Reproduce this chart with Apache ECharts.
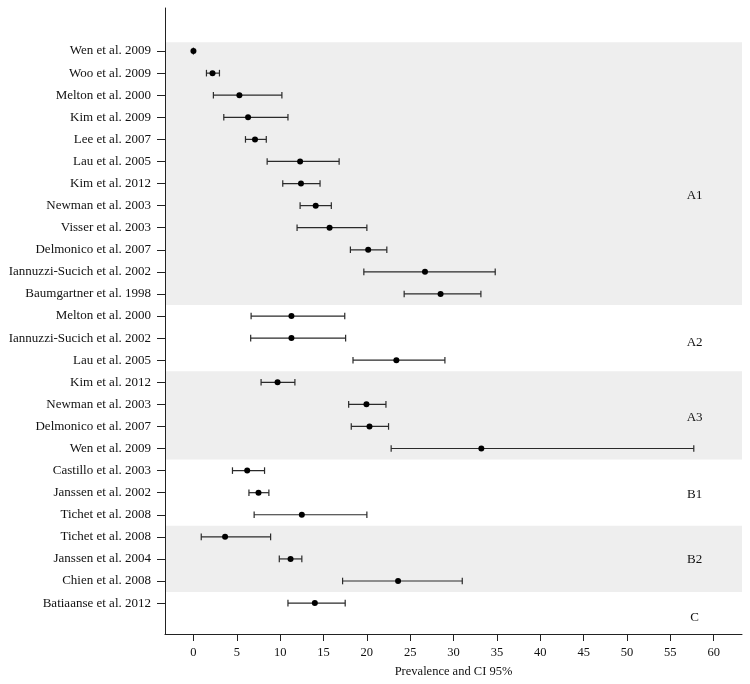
<!DOCTYPE html>
<html>
<head>
<meta charset="utf-8">
<script src="https://cdn.jsdelivr.net/npm/echarts@6/dist/echarts.min.js"></script>
<style>
html,body{margin:0;padding:0;background:#fff;}
#chart{width:750px;height:684px;}
</style>
</head>
<body>
<div id="chart"></div>
<script>
const studies = [
  'Wen et al. 2009','Woo et al. 2009','Melton et al. 2000','Kim et al. 2009','Lee et al. 2007',
  'Lau et al. 2005','Kim et al. 2012','Newman et al. 2003','Visser et al. 2003','Delmonico et al. 2007',
  'Iannuzzi-Sucich et al. 2002','Baumgartner et al. 1998',
  'Melton et al. 2000','Iannuzzi-Sucich et al. 2002','Lau et al. 2005',
  'Kim et al. 2012','Newman et al. 2003','Delmonico et al. 2007','Wen et al. 2009',
  'Castillo et al. 2003','Janssen et al. 2002','Tichet et al. 2008',
  'Tichet et al. 2008','Janssen et al. 2004','Chien et al. 2008',
  'Batiaanse et al. 2012'
];
const prevalence = [0, 2.2, 5.3, 6.3, 7.1, 12.3, 12.4, 14.1, 15.7, 20.15, 26.7, 28.5,
  11.3, 11.3, 23.4, 9.7, 19.95, 20.3, 33.2, 6.2, 7.5, 12.5, 3.65, 11.2, 23.6, 14.0];
const ciLower = [0, 1.5, 2.3, 3.5, 6.0, 8.5, 10.3, 12.3, 11.95, 18.1, 19.65, 24.3,
  6.65, 6.6, 18.4, 7.8, 17.9, 18.2, 22.8, 4.5, 6.4, 7.0, 0.9, 9.9, 17.2, 10.9];
const ciUpper = [0, 3.0, 10.2, 10.9, 8.4, 16.8, 14.6, 15.9, 20.0, 22.3, 34.8, 33.15,
  17.45, 17.55, 29.0, 11.7, 22.2, 22.5, 57.7, 8.2, 8.7, 20.0, 8.9, 12.5, 31.0, 17.5];
const groupNames = ['A1', 'A2', 'A3', 'B1', 'B2', 'C'];
const groupFirstRow = [0, 12, 15, 19, 22, 25];
const groupLastRow = [11, 14, 18, 21, 24, 25];
const shadedGroups = ['A1', 'A3', 'B2'];
const xTicks = [0, 5, 10, 15, 20, 25, 30, 35, 40, 45, 50, 55, 60];
const xTitle = 'Prevalence and CI 95%';

// label placement (rows) for the group names
const groupLabelRow = [6.56, 13.2, 16.6, 20.1, 23.05, 25.67];
const groupLabelX = 57.8;

const rows = studies.map((_, i) => i);
const FONT = 'Liberation Serif';

const chart = echarts.init(document.getElementById('chart'), null, {renderer: 'canvas'});

const bands = shadedGroups.map(g => {
  const k = groupNames.indexOf(g);
  return [{yAxis: groupFirstRow[k] - (k === 0 ? 0.4 : 0.5)}, {yAxis: groupLastRow[k] + 0.5}];
});

const option = {
  animation: false,
  backgroundColor: '#ffffff',
  grid: {left: 165, right: 8, top: 8, bottom: 50, containLabel: false, outerBoundsMode: 'none'},
  xAxis: {
    type: 'value',
    z: 10,
    min: -3.28, max: 63.26,
    name: xTitle,
    nameLocation: 'middle',
    nameGap: 31,
    nameTextStyle: {fontFamily: FONT, fontSize: 12.5, color: '#111'},
    axisLine: {show: true, onZero: false, lineStyle: {color: '#222', width: 1}},
    axisTick: {show: true, length: 7, customValues: xTicks, lineStyle: {color: '#222'}},
    axisLabel: {customValues: xTicks, margin: 12, fontFamily: FONT, fontSize: 12.5, color: '#111'},
    splitLine: {show: false}
  },
  yAxis: {
    type: 'value',
    z: 10,
    inverse: true,
    min: -1.95, max: 26.4,
    axisLine: {show: true, onZero: false, lineStyle: {color: '#222', width: 1}},
    axisTick: {show: true, length: 8, customValues: rows, lineStyle: {color: '#222'}},
    axisLabel: {
      customValues: rows,
      margin: 14,
      fontFamily: FONT, fontSize: 13, color: '#111',
      formatter: v => studies[Math.round(v)] || ''
    },
    splitLine: {show: false}
  },
  series: [
    {
      type: 'custom',
      name: 'ci',
      silent: true,
      z: 3,
      encode: {x: [0, 1], y: 2},
      data: rows.map(i => [ciLower[i], ciUpper[i], i]),
      markArea: {
        silent: true,
        itemStyle: {color: '#eeeeee', opacity: 1},
        data: bands
      },
      renderItem: function (params, api) {
        const p1 = api.coord([api.value(0), api.value(2)]);
        const p2 = api.coord([api.value(1), api.value(2)]);
        const h = 3.3;
        const st = {stroke: '#2a2a2a', lineWidth: 1.2};
        return {
          type: 'group',
          children: [
            {type: 'line', shape: {x1: p1[0], y1: p1[1], x2: p2[0], y2: p2[1]}, style: st},
            {type: 'line', shape: {x1: p1[0], y1: p1[1] - h, x2: p1[0], y2: p1[1] + h}, style: st},
            {type: 'line', shape: {x1: p2[0], y1: p2[1] - h, x2: p2[0], y2: p2[1] + h}, style: st}
          ]
        };
      }
    },
    {
      type: 'scatter',
      name: 'prevalence',
      silent: true,
      z: 4,
      symbol: 'circle',
      symbolSize: 6,
      itemStyle: {color: '#000000', opacity: 1},
      data: rows.map(i => [prevalence[i], i])
    },
    {
      type: 'scatter',
      name: 'groups',
      silent: true,
      z: 5,
      symbolSize: 0,
      itemStyle: {opacity: 1, color: '#111'},
      data: groupNames.map((g, k) => ({value: [groupLabelX, groupLabelRow[k]], name: g})),
      label: {
        show: true,
        position: 'inside',
        opacity: 1,
        textBorderWidth: 0,
        textBorderColor: 'transparent',
        formatter: p => p.name,
        fontFamily: FONT, fontSize: 13, color: '#111'
      }
    }
  ]
};
chart.setOption(option);
</script>
</body>
</html>
